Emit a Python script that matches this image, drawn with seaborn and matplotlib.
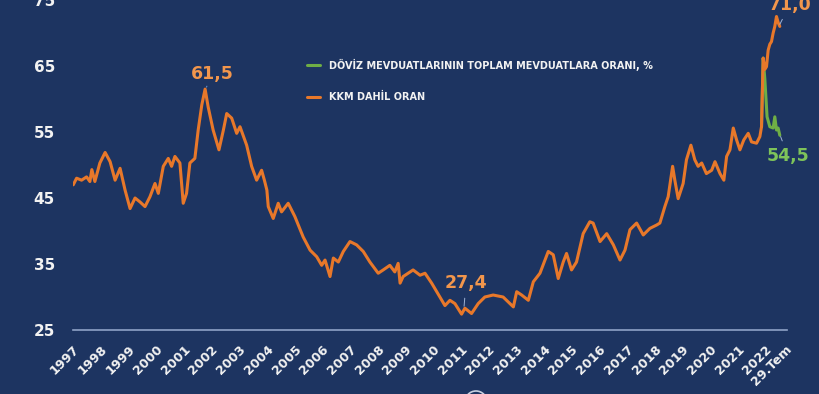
import matplotlib
matplotlib.use("Agg")
import matplotlib.pyplot as plt
import matplotlib.patches as mpatches
import numpy as np
import pandas as pd
import seaborn as sns

# ---- data ----
kkm_years = [
    1997.01, 1997.13, 1997.31, 1997.49, 1997.61, 1997.68, 1997.79, 1997.97,
    1998.16, 1998.34, 1998.52, 1998.70, 1998.88, 1999.06, 1999.24, 1999.42,
    1999.60, 1999.78, 1999.96, 2000.08, 2000.26, 2000.44, 2000.56, 2000.68,
    2000.86, 2000.98, 2001.10, 2001.22, 2001.40, 2001.52, 2001.65, 2001.77,
    2001.88, 2002.06, 2002.27, 2002.43, 2002.55, 2002.73, 2002.91, 2003.03,
    2003.27, 2003.45, 2003.63, 2003.81, 2003.91, 2004.00, 2004.05, 2004.23,
    2004.41, 2004.53, 2004.77, 2005.01, 2005.31, 2005.56, 2005.80, 2005.98,
    2006.10, 2006.28, 2006.40, 2006.58, 2006.76, 2007.00, 2007.24, 2007.48,
    2007.72, 2008.02, 2008.20, 2008.44, 2008.62, 2008.74, 2008.81, 2008.92,
    2009.28, 2009.53, 2009.71, 2009.95, 2010.19, 2010.43, 2010.61, 2010.79,
    2011.03, 2011.15, 2011.39, 2011.63, 2011.87, 2012.17, 2012.53, 2012.90,
    2013.02, 2013.20, 2013.44, 2013.62, 2013.86, 2014.16, 2014.34, 2014.52,
    2014.70, 2014.82, 2015.00, 2015.18, 2015.42, 2015.66, 2015.78, 2016.03,
    2016.27, 2016.51, 2016.75, 2016.93, 2017.11, 2017.35, 2017.59, 2017.83,
    2018.07, 2018.19, 2018.37, 2018.49, 2018.65, 2018.73, 2018.85, 2019.03,
    2019.15, 2019.31, 2019.45, 2019.57, 2019.70, 2019.87, 2020.06, 2020.18,
    2020.36, 2020.50, 2020.60, 2020.72, 2020.84, 2020.96, 2021.08, 2021.22,
    2021.38, 2021.50, 2021.68, 2021.80, 2021.86, 2021.92, 2021.98, 2022.04,
    2022.10, 2022.16, 2022.22, 2022.28, 2022.34, 2022.40, 2022.46, 2022.52,
]
kkm_values = [
    47.0, 48.0, 47.7, 48.2, 47.5, 49.3, 47.5, 50.3,
    51.9, 50.5, 47.7, 49.5, 46.2, 43.4, 45.0, 44.4,
    43.7, 45.2, 47.2, 45.7, 49.8, 51.0, 49.8, 51.3,
    50.3, 44.2, 45.7, 50.3, 51.0, 55.3, 59.1, 61.5,
    58.8, 55.3, 52.3, 55.3, 57.8, 57.1, 54.8, 55.8,
    53.0, 49.8, 47.7, 49.2, 47.7, 46.2, 43.7, 41.9,
    44.2, 42.9, 44.2, 42.2, 39.1, 37.1, 36.1, 34.8,
    35.6, 33.1, 35.9, 35.3, 36.9, 38.4, 37.9, 36.9,
    35.3, 33.6, 34.1, 34.8, 33.8, 35.1, 32.1, 33.1,
    34.1, 33.3, 33.6, 32.1, 30.4, 28.7, 29.5, 29.0,
    27.4, 28.3, 27.5, 29.0, 30.0, 30.3, 30.0, 28.5,
    30.8, 30.3, 29.5, 32.3, 33.6, 36.9, 36.4, 32.8,
    35.3, 36.6, 34.1, 35.3, 39.6, 41.4, 41.2, 38.4,
    39.6, 37.9, 35.6, 37.1, 40.2, 41.2, 39.4, 40.4,
    40.9, 41.2, 43.7, 45.2, 49.8, 47.7, 44.9, 47.2,
    50.8, 53.0, 50.8, 49.8, 50.3, 48.7, 49.2, 50.5,
    48.7, 47.7, 51.3, 52.3, 55.6, 53.8, 52.3, 53.8,
    54.8, 53.5, 53.3, 54.3, 55.8, 66.2, 64.5, 64.9,
    67.4, 68.3, 68.7, 70.0, 71.0, 72.5, 71.6, 71.0,
]
fx_years = [2021.86, 2021.92, 2021.98, 2022.06, 2022.16, 2022.28,
            2022.34, 2022.40, 2022.46, 2022.52]
fx_values = [55.8, 66.2, 63.0, 57.3, 55.8, 55.6, 57.3, 55.3, 55.6, 54.5]

tick_years = list(range(1997, 2023)) + [2022.72]
tick_labels = [str(y) for y in range(1997, 2023)] + ["29.Tem"]
y_ticks = [25, 35, 45, 55, 65, 75]

series_fx = "DÖVİZ MEVDUATLARININ TOPLAM MEVDUATLARA ORANI, %"
series_kkm = "KKM DAHİL ORAN"

# ---- style ----
BG = "#1d3461"
ORANGE = "#e8782a"
ORANGE_TXT = "#f2964c"
GREEN = "#6fae45"
GREEN_TXT = "#7ec35a"
WHITE = "#f2f2f2"

sns.set_theme(style="white", rc={"axes.facecolor": BG, "figure.facecolor": BG})
plt.rcParams["font.family"] = ["DejaVu Sans"]

fig = plt.figure(figsize=(8.2, 3.94), dpi=100)
ax = fig.add_axes([73 / 820, 64 / 394, 714 / 820, 330 / 394])
ax.set_facecolor(BG)

df_fx = pd.DataFrame({"x": fx_years, "y": fx_values})
df_kkm = pd.DataFrame({"x": kkm_years, "y": kkm_values})

sns.lineplot(data=df_fx, x="x", y="y", ax=ax, color=GREEN, linewidth=2.2,
             estimator=None, sort=False, label=series_fx)
sns.lineplot(data=df_kkm, x="x", y="y", ax=ax, color=ORANGE, linewidth=2.2,
             estimator=None, sort=False, label=series_kkm)

ax.set_xlim(1997.0, 2022.78)
ax.set_ylim(25, 75)
ax.set_xlabel("")
ax.set_ylabel("")

ax.set_yticks(y_ticks)
ax.set_yticklabels([str(v) for v in y_ticks], fontsize=11, fontweight="bold", color=WHITE)
ax.set_xticks(tick_years)
ax.set_xticklabels(tick_labels, fontsize=9.2, fontweight="bold", color=WHITE,
                   rotation=45, ha="right", va="top", rotation_mode="anchor")
ax.tick_params(axis="y", length=0, pad=13)
ax.tick_params(axis="x", length=0, pad=9)

for s in ["top", "right", "left"]:
    ax.spines[s].set_visible(False)
ax.spines["bottom"].set_color("#8ea2c6")
ax.spines["bottom"].set_linewidth(1.2)
ax.grid(False)

leg = ax.legend(loc="upper left", bbox_to_anchor=(0.328, 0.822), frameon=False,
                fontsize=7, handlelength=1.35, handletextpad=0.9,
                labelspacing=2.2, borderpad=0, borderaxespad=0)
for t in leg.get_texts():
    t.set_color(WHITE)
    t.set_fontweight("bold")

ann_kw = dict(fontsize=12.5, fontweight="bold", ha="center", va="center",
              annotation_clip=False)
ax.annotate("61,5", xy=(2001.82, 61.8), xytext=(2002.02, 63.8), color=ORANGE_TXT,
            arrowprops=dict(arrowstyle="-", color="#5f8fd0", lw=0.8, shrinkB=0), **ann_kw)
ax.annotate("27,4", xy=(2011.12, 28.6), xytext=(2011.19, 32.1), color=ORANGE_TXT,
            arrowprops=dict(arrowstyle="-", color="#9fb3d6", lw=0.7, shrinkB=0), **ann_kw)
ax.annotate("71,0", xy=(2022.52, 71.3), xytext=(2022.88, 74.3), color=ORANGE_TXT,
            arrowprops=dict(arrowstyle="-", color="#9fb3d6", lw=0.7, shrinkB=0), **ann_kw)
ax.annotate("54,5", xy=(2022.55, 54.3), xytext=(2022.81, 51.4), color=GREEN_TXT,
            arrowprops=dict(arrowstyle="-", color="#9fb3d6", lw=0.7, shrinkB=0), **ann_kw)

# small partially visible logo ring at bottom edge
ring = mpatches.Circle((4.76, -0.08), 0.11, transform=fig.dpi_scale_trans,
                       fill=False, edgecolor="#c8d0e0", linewidth=1.2)
fig.add_artist(ring)

fig.savefig("out.png", dpi=100, facecolor=BG)
